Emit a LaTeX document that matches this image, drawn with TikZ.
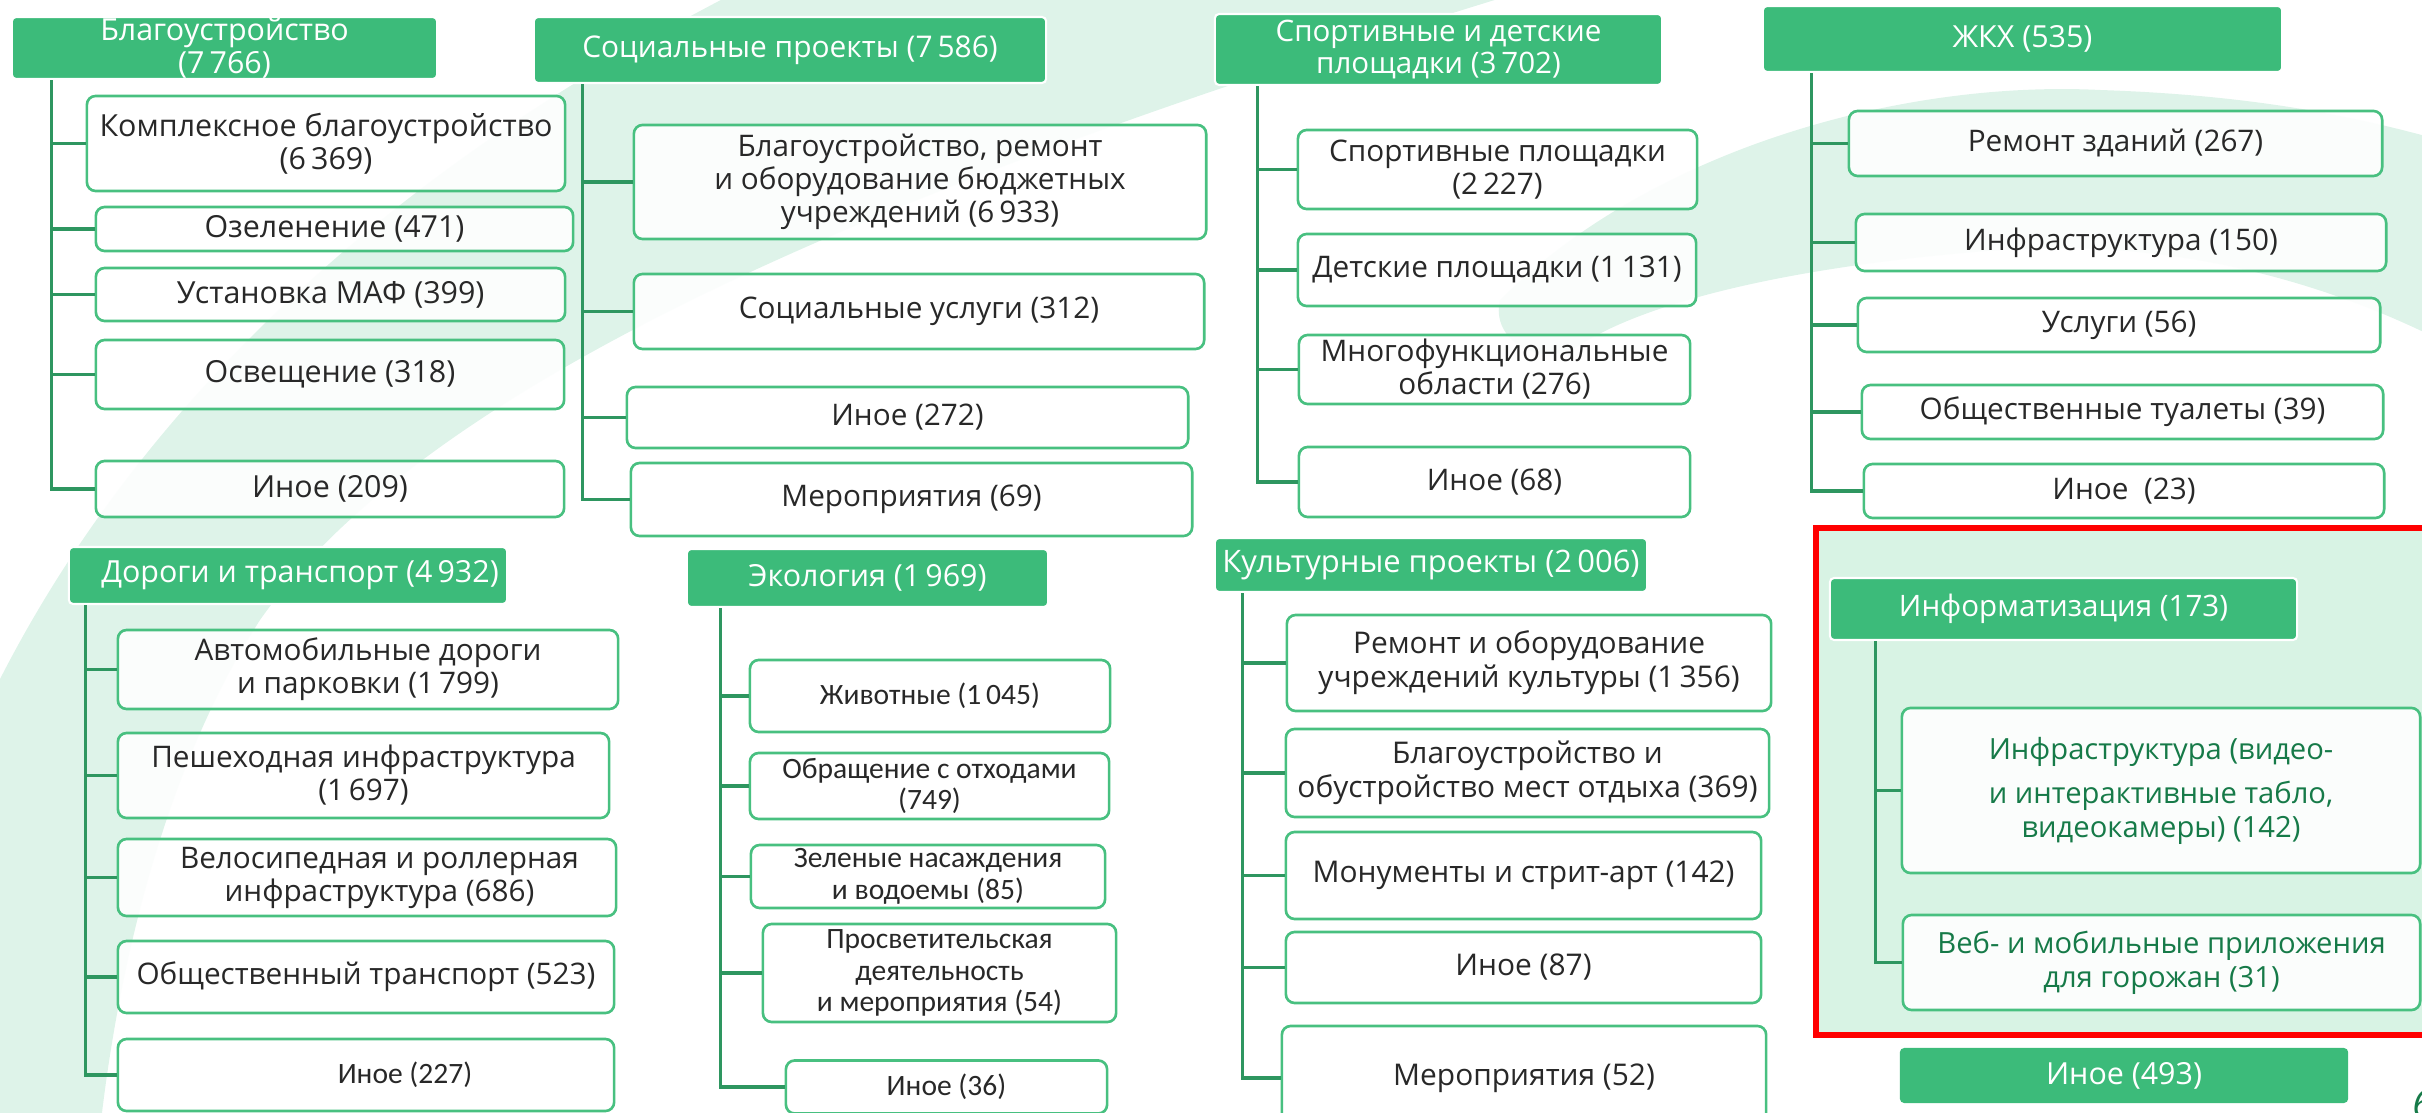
\documentclass[tikz,border=0pt]{standalone}
\usepackage{fontspec}
\setmainfont{Open Sans}
\newfontfamily\calfont{Carlito}
\usepackage{xcolor}

\definecolor{bgmint}{RGB}{214,240,228}
\definecolor{hgreen}{RGB}{60,187,122}
\definecolor{cgreen}{RGB}{72,192,128}
\definecolor{lgreen}{RGB}{46,150,96}
\definecolor{infofill}{RGB}{216,243,228}
\definecolor{infotext}{RGB}{22,122,72}
\definecolor{darktext}{RGB}{40,40,40}

\begin{document}
\begin{tikzpicture}[x=0.01cm, y=-0.01cm,
  head/.style={fill=hgreen, draw=white, line width=0.6pt, rounded corners=1.2pt,
    text=white, align=center, inner sep=0pt, font=\fontsize{8.65}{9.3}\selectfont},
  item/.style={fill=white, fill opacity=0.9, text opacity=1, draw=cgreen,
    line width=0.75pt, rounded corners=2.5pt, text=darktext, align=center,
    inner sep=0pt, font=\fontsize{8.45}{9.4}\selectfont},
  bitem/.style={item, font=\fontsize{8.65}{9.4}\selectfont},
  ecoitem/.style={item, font=\calfont\fontsize{8.4}{9}\selectfont},
  cultitem/.style={item, font=\fontsize{8.5}{9.6}\selectfont},
  infoitem/.style={item, text=infotext, font=\fontsize{8.3}{9.6}\selectfont},
  link/.style={draw=lgreen, line width=0.9pt}]
\useasboundingbox (0,0) rectangle (2422,1113);

% background bands
\fill[bgmint, opacity=0.8] (-20,720) .. controls (120,420) and (380,170) .. (760,-20)
  -- (1560,-20) .. controls (1000,150) and (450,350) .. (260,620)
  .. controls (170,760) and (120,950) .. (100,1130) -- (-20,1130) -- cycle;
\fill[bgmint, opacity=0.8] (1500,300) .. controls (1650,150) and (1900,80) .. (2100,90)
  .. controls (2250,95) and (2350,115) .. (2440,140) -- (2440,340)
  .. controls (2300,270) and (2150,240) .. (2000,250)
  .. controls (1800,265) and (1650,300) .. (1580,345)
  .. controls (1540,370) and (1490,340) .. (1500,300) -- cycle;

% Благоустройство
\node[head, minimum width=4.25cm, minimum height=0.62cm] (h1) at (224.5,48) {Благоустройство\\(7\,766)};
\node[bitem, minimum width=4.78cm, minimum height=0.95cm] (b1) at (326,143.5) {Комплексное благоустройство\\(6\,369)};
\node[bitem, minimum width=4.77cm, minimum height=0.44cm] (b2) at (334.5,229) {Озеленение (471)};
\node[bitem, minimum width=4.69cm, minimum height=0.53cm] (b3) at (330.5,294.5) {Установка МАФ (399)};
\node[bitem, minimum width=4.68cm, minimum height=0.69cm] (b4) at (330,374.5) {Освещение (318)};
\node[bitem, minimum width=4.68cm, minimum height=0.56cm] (b5) at (330,489) {Иное (209)};
\foreach \c in {b1,b2,b3,b4,b5}
  \draw[link] ([xshift=0.41cm]h1.south west) |- (\c.west);

% Социальные проекты
\node[head, minimum width=5.12cm, minimum height=0.66cm, font=\fontsize{8.5}{10}\selectfont] (h2) at (790,50) {Социальные проекты (7\,586)};
\node[item, minimum width=5.72cm, minimum height=1.14cm] (s1) at (920,182) {Благоустройство, ремонт\\и оборудование бюджетных\\учреждений (6\,933)};
\node[item, minimum width=5.70cm, minimum height=0.75cm] (s2) at (919,311.5) {Социальные услуги (312)};
\node[item, minimum width=5.61cm, minimum height=0.61cm] (s3) at (907.5,417.5) {Иное (272)};
\node[item, minimum width=5.61cm, minimum height=0.73cm] (s4) at (911.5,499.5) {Мероприятия (69)};
\foreach \c in {s1,s2,s3,s4}
  \draw[link] ([xshift=0.50cm]h2.south west) |- (\c.west);

% Спортивные и детские площадки
\node[head, minimum width=4.47cm, minimum height=0.71cm, font=\fontsize{8.4}{9.2}\selectfont] (h3) at (1438.5,49.5) {Спортивные и детские\\площадки (3\,702)};
\node[item, minimum width=3.99cm, minimum height=0.79cm] (p1) at (1497.5,169.5) {Спортивные площадки\\(2\,227)};
\node[item, minimum width=3.98cm, minimum height=0.72cm] (p2) at (1497,270) {Детские площадки (1\,131)};
\node[item, minimum width=3.91cm, minimum height=0.69cm] (p3) at (1494.5,369.5) {Многофункциональные\\области (276)};
\node[item, minimum width=3.91cm, minimum height=0.70cm] (p4) at (1494.5,482) {Иное (68)};
\foreach \c in {p1,p2,p3,p4}
  \draw[link] ([xshift=0.44cm]h3.south west) |- (\c.west);

% ЖКХ
\node[head, minimum width=5.19cm, minimum height=0.66cm] (h4) at (2022.5,39) {ЖКХ (535)};
\node[item, minimum width=5.33cm, minimum height=0.65cm] (z1) at (2115.5,143.5) {Ремонт зданий (267)};
\node[item, minimum width=5.30cm, minimum height=0.57cm] (z2) at (2121,242.5) {Инфраструктура (150)};
\node[item, minimum width=5.22cm, minimum height=0.54cm] (z3) at (2119,325) {Услуги (56)};
\node[item, minimum width=5.21cm, minimum height=0.54cm] (z4) at (2122.5,412) {Общественные туалеты (39)};
\node[item, minimum width=5.20cm, minimum height=0.54cm] (z5) at (2124,491) {Иное\ \ (23)};
\foreach \c in {z1,z2,z3,z4,z5}
  \draw[link] ([xshift=0.50cm]h4.south west) |- (\c.west);

% Дороги и транспорт
\node[head, minimum width=4.38cm, minimum height=0.57cm] (h5) at (288,575.5) {\hspace*{0.24cm}Дороги и транспорт (4\,932)};
\node[item, minimum width=5.00cm, minimum height=0.79cm] (r1) at (368,669.5) {Автомобильные дороги\\и парковки (1\,799)};
\node[item, minimum width=4.91cm, minimum height=0.85cm] (r2) at (363.5,775.5) {Пешеходная инфраструктура\\(1\,697)};
\node[item, minimum width=4.98cm, minimum height=0.77cm] (r3) at (367,877.5) {\hspace*{0.25cm}Велосипедная и роллерная\\\hspace*{0.25cm}инфраструктура (686)};
\node[item, minimum width=4.96cm, minimum height=0.72cm] (r4) at (366,977) {Общественный транспорт (523)};
\node[ecoitem, minimum width=4.96cm, minimum height=0.72cm] (r5) at (366,1075) {\hspace*{0.78cm}Иное (227)};
\foreach \c in {r1,r2,r3,r4,r5}
  \draw[link] ([xshift=0.18cm]h5.south west) |- (\c.west);

% Экология
\node[head, minimum width=3.61cm, minimum height=0.58cm] (h6) at (867.5,578) {Экология (1\,969)};
\node[ecoitem, minimum width=3.60cm, minimum height=0.72cm] (e1) at (930,696) {Животные (1\,045)};
\node[ecoitem, minimum width=3.59cm, minimum height=0.66cm] (e2) at (929.5,786) {Обращение с отходами\\(749)};
\node[ecoitem, minimum width=3.54cm, minimum height=0.63cm] (e3) at (928,876.5) {Зеленые насаждения\\и водоемы (85)};
\node[ecoitem, minimum width=3.53cm, minimum height=0.98cm] (e4) at (939.5,973) {Просветительская\\деятельность\\и мероприятия (54)};
\node[ecoitem, minimum width=3.21cm, minimum height=0.53cm] (e5) at (946.5,1087) {Иное (36)};
\foreach \c in {e1,e2,e3,e4,e5}
  \draw[link] ([xshift=0.35cm]h6.south west) |- (\c.west);

% Культурные проекты
\node[head, minimum width=4.32cm, minimum height=0.54cm, font=\fontsize{8.8}{9.6}\selectfont] (h7) at (1431,565) {Культурные проекты (2\,006)};
\node[cultitem, minimum width=4.84cm, minimum height=0.96cm] (k1) at (1529,663) {Ремонт и оборудование\\учреждений культуры (1\,356)};
\node[cultitem, minimum width=4.83cm, minimum height=0.88cm] (k2) at (1527.5,773) {Благоустройство и\\обустройство мест отдыха (369)};
\node[cultitem, minimum width=4.75cm, minimum height=0.87cm] (k3) at (1523.5,875.5) {Монументы и стрит-арт (142)};
\node[cultitem, minimum width=4.75cm, minimum height=0.71cm] (k4) at (1523.5,967.5) {Иное (87)};
\node[cultitem, minimum width=4.84cm, minimum height=1.04cm] (k5) at (1524,1078) {Мероприятия (52)};
\foreach \c in {k1,k2,k3,k4,k5}
  \draw[link] ([xshift=0.29cm]h7.south west) |- (\c.west);

% Информатизация
\draw[red, line width=1.7pt, fill=infofill] (1816,528) rectangle (2450,1035);
\node[head, minimum width=4.67cm, minimum height=0.62cm, font=\fontsize{8.4}{9.2}\selectfont] (h8) at (2063.5,609) {Информатизация (173)};
\node[infoitem, minimum width=5.18cm, minimum height=1.65cm] (i1) at (2161,790.5) {Инфраструктура (видео-\\[3pt]и интерактивные табло,\\видеокамеры) (142)};
\node[infoitem, minimum width=5.17cm, minimum height=0.95cm] (i2) at (2161.5,962.5) {Веб- и мобильные приложения\\для горожан (31)};
\foreach \c in {i1,i2}
  \draw[link] ([xshift=0.47cm]h8.south west) |- (\c.west);
\node[head, draw=none, minimum width=4.48cm, minimum height=0.55cm] (oth) at (2124,1075.5) {Иное (493)};

% page number, cut by the edge
\node[anchor=west, inner sep=0pt, text=infotext, font=\itshape\fontsize{11}{11}\selectfont] (pg) at (2412,1104) {6};
\end{tikzpicture}
\end{document}
